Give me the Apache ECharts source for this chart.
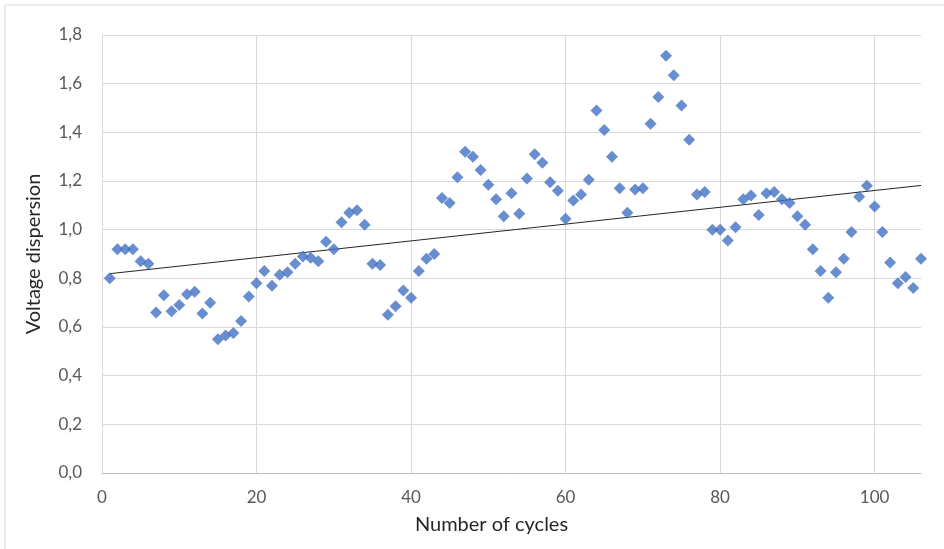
<!DOCTYPE html>
<html>
<head>
<meta charset="utf-8">
<script src="https://cdn.jsdelivr.net/npm/echarts@6/dist/echarts.min.js"></script>
<style>
  html, body { margin: 0; padding: 0; background: #fff; }
  #container { width: 944px; height: 549px; }
</style>
</head>
<body>
<div id="container"></div>
<script>
var dom = document.getElementById('container');
var myChart = echarts.init(dom, null, { renderer: 'canvas' });

// cycle numbers 1..106 and the measured dispersion for each one
const cycles = [
  1, 2, 3, 4, 5, 6, 7, 8, 9, 10, 11, 12, 13, 14, 15, 16, 17, 18, 19, 20,
  21, 22, 23, 24, 25, 26, 27, 28, 29, 30, 31, 32, 33, 34, 35, 36, 37, 38, 39, 40,
  41, 42, 43, 44, 45, 46, 47, 48, 49, 50, 51, 52, 53, 54, 55, 56, 57, 58, 59, 60,
  61, 62, 63, 64, 65, 66, 67, 68, 69, 70, 71, 72, 73, 74, 75, 76, 77, 78, 79, 80,
  81, 82, 83, 84, 85, 86, 87, 88, 89, 90, 91, 92, 93, 94, 95, 96, 97, 98, 99, 100,
  101, 102, 103, 104, 105, 106
];
const dispersion = [
  0.80, 0.92, 0.92, 0.92, 0.87, 0.86, 0.66, 0.73, 0.665, 0.69,
  0.735, 0.745, 0.655, 0.70, 0.55, 0.565, 0.575, 0.625, 0.725, 0.78,
  0.83, 0.77, 0.815, 0.825, 0.86, 0.89, 0.885, 0.87, 0.95, 0.92,
  1.03, 1.07, 1.08, 1.02, 0.86, 0.855, 0.65, 0.685, 0.75, 0.72,
  0.83, 0.88, 0.90, 1.13, 1.11, 1.215, 1.32, 1.30, 1.245, 1.185,
  1.125, 1.055, 1.15, 1.065, 1.21, 1.31, 1.275, 1.195, 1.16, 1.045,
  1.12, 1.145, 1.205, 1.49, 1.41, 1.30, 1.17, 1.07, 1.165, 1.17,
  1.435, 1.545, 1.715, 1.635, 1.51, 1.37, 1.145, 1.155, 1.0, 1.0,
  0.955, 1.01, 1.125, 1.14, 1.06, 1.15, 1.155, 1.125, 1.11, 1.055,
  1.02, 0.92, 0.83, 0.72, 0.825, 0.88, 0.99, 1.135, 1.18, 1.095,
  0.99, 0.865, 0.78, 0.805, 0.76, 0.88
];

// least squares trendline over the same points
function linearFit(xs, ys) {
  var n = xs.length, sx = 0, sy = 0, sxx = 0, sxy = 0;
  for (var i = 0; i < n; i++) {
    sx += xs[i]; sy += ys[i];
    sxx += xs[i] * xs[i]; sxy += xs[i] * ys[i];
  }
  var slope = (n * sxy - sx * sy) / (n * sxx - sx * sx);
  var icpt = (sy - slope * sx) / n;
  return [slope, icpt];
}
var fit = linearFit(cycles, dispersion);
var xFirst = cycles[0], xLast = cycles[cycles.length - 1];
var trend = [
  [xFirst, fit[1] + fit[0] * xFirst],
  [xLast, fit[1] + fit[0] * xLast]
];

var points = cycles.map(function (c, i) { return [c, dispersion[i]]; });

const font = 'Lato, "Open Sans", sans-serif';
const gridColor = '#d9d9d9';

var option = {
  backgroundColor: '#fff',
  animation: false,
  graphic: [{
    type: 'rect',
    shape: { x: 5, y: 5, width: 960, height: 560 },
    style: { fill: 'none', stroke: '#d9d9d9', lineWidth: 1 },
    silent: true
  }],
  grid: { left: 102, right: 23, top: 35, bottom: 76, containLabel: false },
  xAxis: {
    type: 'value',
    min: 0,
    max: 106,
    interval: 20,
    name: 'Number of cycles',
    nameLocation: 'middle',
    nameGap: 42,
    nameTextStyle: { fontFamily: font, fontSize: 20, color: '#262626', padding: [0, 40, 0, 0] },
    axisLine: { lineStyle: { color: '#bfbfbf' } },
    axisTick: { show: false },
    axisLabel: {
      showMaxLabel: false,
      margin: 16,
      fontFamily: font, fontSize: 17, color: '#595959'
    },
    splitLine: {
      lineStyle: {
        color: [gridColor, gridColor, gridColor, gridColor, gridColor, gridColor, 'rgba(0,0,0,0)']
      }
    }
  },
  yAxis: {
    type: 'value',
    min: 0,
    max: 1.8,
    interval: 0.2,
    name: 'Voltage dispersion',
    nameLocation: 'middle',
    nameGap: 58,
    nameTextStyle: { fontFamily: font, fontSize: 20, color: '#262626' },
    axisLine: { show: true, lineStyle: { color: gridColor } },
    axisTick: { show: false },
    axisLabel: {
      margin: 20,
      fontFamily: font, fontSize: 17, color: '#595959',
      formatter: function (v) { return v.toFixed(1).replace('.', ','); }
    },
    splitLine: { lineStyle: { color: gridColor } }
  },
  series: [
    {
      type: 'scatter',
      symbol: 'diamond',
      symbolSize: 12,
      itemStyle: { color: '#4472C4' },
      data: points,
      z: 3
    },
    {
      type: 'line',
      data: trend,
      symbol: 'none',
      lineStyle: { color: '#262626', width: 1 },
      z: 2
    }
  ]
};

myChart.setOption(option);
window.addEventListener('resize', myChart.resize);
</script>
</body>
</html>
